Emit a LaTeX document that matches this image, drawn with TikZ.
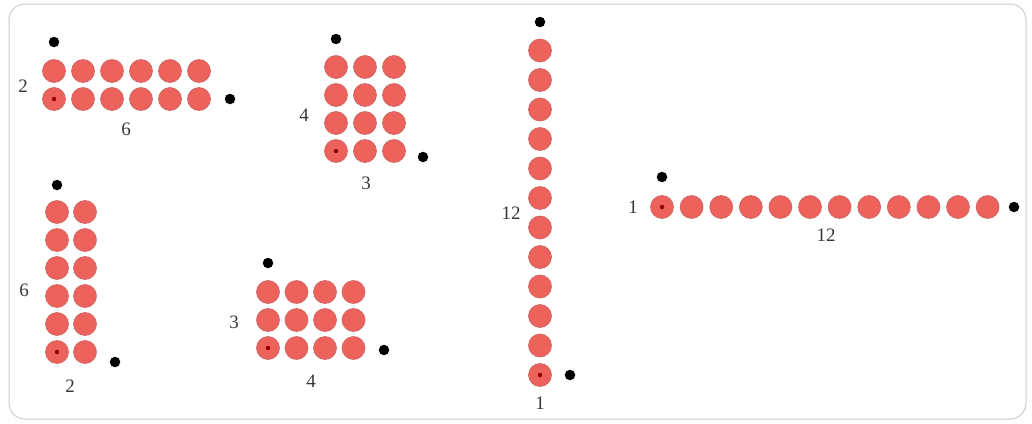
\documentclass[tikz,border=0pt]{standalone}
\usepackage{fontspec}
\setmainfont{Liberation Serif}
\definecolor{bead}{RGB}{238,98,92}
\definecolor{beadedge}{RGB}{218,102,98}
\definecolor{labelgray}{RGB}{55,55,55}
\definecolor{framegray}{RGB}{205,205,205}
\tikzset{
  bead/.style={circle,fill=bead,draw=beadedge,line width=1.2pt,minimum size=22.5pt,inner sep=0pt},
  corner/.style={circle,fill=black,minimum size=10.5pt,inner sep=0pt},
  origin/.style={circle,fill={rgb,255:red,150;green,0;blue,0},minimum size=4.5pt,inner sep=0pt},
  lab/.style={text=labelgray,font=\fontsize{19}{19}\selectfont,inner sep=0pt}
}
% \dotgrid{name}{x0}{y0}{rows}{cols}{dx}{dy}: (x0,y0) is the bottom-left bead
\newcommand\dotgrid[7]{%
  \foreach \r in {1,...,#4}{%
    \foreach \c in {1,...,#5}{%
      \node[bead] (#1-\r-\c) at ({#2+(\c-1)*#6},{#3-(\r-1)*#7}) {};
    }%
  }%
  \node[origin] (#1-o) at (#1-1-1.center) {};
}
\begin{document}
\begin{tikzpicture}[x=1pt,y=-1pt]
\useasboundingbox (0,0) rectangle (1032,423);
\draw[framegray,line width=1pt,rounded corners=16pt] (9,4) rectangle (1026,419);

% 2 x 6
\dotgrid{ga}{54}{99}{2}{6}{29}{28}
\node[corner] (ga-t) at (54,42) {};
\node[corner] (ga-r) at (230,99) {};
\node[lab] (ga-h) at (23,86) {2};
\node[lab] (ga-w) at (126,129) {6};

% 4 x 3
\dotgrid{gb}{336}{151}{4}{3}{29}{28}
\node[corner] (gb-t) at (336,39) {};
\node[corner] (gb-r) at (423,157) {};
\node[lab] (gb-h) at (304,115) {4};
\node[lab] (gb-w) at (366,183) {3};

% 12 x 1
\dotgrid{gc}{540}{375}{12}{1}{29}{29.5}
\node[corner] (gc-t) at (540,22) {};
\node[corner] (gc-r) at (570,375) {};
\node[lab] (gc-h) at (511,213) {12};
\node[lab] (gc-w) at (540,403) {1};

% 1 x 12
\dotgrid{gd}{662}{207}{1}{12}{29.6}{29}
\node[corner] (gd-t) at (662,177) {};
\node[corner] (gd-r) at (1014,207) {};
\node[lab] (gd-h) at (633,207) {1};
\node[lab] (gd-w) at (826,235) {12};

% 6 x 2
\dotgrid{ge}{57}{352}{6}{2}{28}{28}
\node[corner] (ge-t) at (57,185) {};
\node[corner] (ge-r) at (115,362) {};
\node[lab] (ge-h) at (24,290) {6};
\node[lab] (ge-w) at (70,386) {2};

% 3 x 4
\dotgrid{gf}{268}{348}{3}{4}{28.5}{28}
\node[corner] (gf-t) at (268,263) {};
\node[corner] (gf-r) at (384,350) {};
\node[lab] (gf-h) at (234,322) {3};
\node[lab] (gf-w) at (311,381) {4};
\end{tikzpicture}
\end{document}
